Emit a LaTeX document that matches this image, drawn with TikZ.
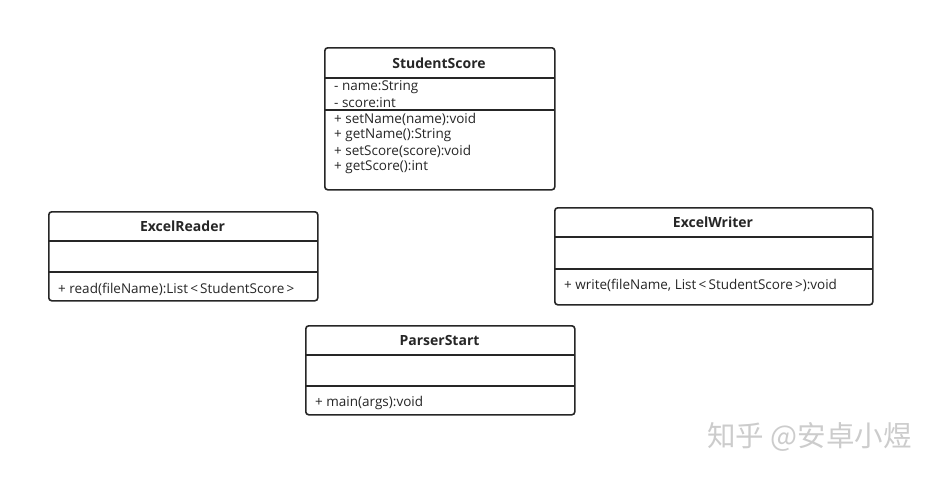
\documentclass[tikz,border=0pt]{standalone}
\usepackage{fontspec}
\setmainfont{Open Sans}
\newfontfamily\cjk{Noto Sans CJK SC}
\begin{document}
\begin{tikzpicture}[x=1pt,y=-1pt,
  classbox/.style={draw=black!85,line width=1.6pt,rounded corners=3pt,inner sep=0pt,anchor=north west},
  divider/.style={draw=black!85,line width=1.6pt},
  title/.style={font=\fontsize{14}{16}\selectfont\bfseries,text=black!85,anchor=center,inner sep=0pt},
  member/.style={font=\fontsize{13.5}{15}\selectfont,text=black!85,anchor=west,inner sep=0pt}]
\useasboundingbox[fill=white] (0,0) rectangle (934,477);

% StudentScore
\node[classbox,minimum width=230pt,minimum height=142pt] (ss) at (324,47) {};
\draw[divider] (324,78) -- (554,78);
\draw[divider] (324,110) -- (554,110);
\node[title] (sst) at (439,63) {StudentScore};
\node[member] (ss1) at (334,87) {- name:String};
\node[member] (ss2) at (334,103) {- score:int};
\node[member] (ss3) at (334,119) {+ setName(name):void};
\node[member] (ss4) at (334,135) {+ getName():String};
\node[member] (ss5) at (334,151) {+ setScore(score):void};
\node[member] (ss6) at (334,167) {+ getScore():int};

% ExcelReader
\node[classbox,minimum width=269pt,minimum height=89pt] (er) at (48,211) {};
\draw[divider] (48,241) -- (317,241);
\draw[divider] (48,272) -- (317,272);
\node[title] (ert) at (182.5,226) {ExcelReader};
\node[member] (er1) at (58,289) {+ read(fileName):List\,<\,StudentScore\,>};

% ExcelWriter
\node[classbox,minimum width=318pt,minimum height=97pt] (ew) at (554,207) {};
\draw[divider] (554,237) -- (872,237);
\draw[divider] (554,269) -- (872,269);
\node[title] (ewt) at (713,222) {ExcelWriter};
\node[member] (ew1) at (564,285) {+ write(fileName, List\,<\,StudentScore\,>):void};

% ParserStart
\node[classbox,minimum width=269pt,minimum height=89pt] (ps) at (305,325) {};
\draw[divider] (305,355) -- (574,355);
\draw[divider] (305,386) -- (574,386);
\node[title] (pst) at (439.5,340) {ParserStart};
\node[member] (ps1) at (315,403) {+ main(args):void};

% watermark
\node[font=\cjk\fontsize{28.5}{31}\selectfont,text=black!20,anchor=west,inner sep=0pt] (wm) at (707,437) {知乎 @安卓小煜};
\end{tikzpicture}
\end{document}
